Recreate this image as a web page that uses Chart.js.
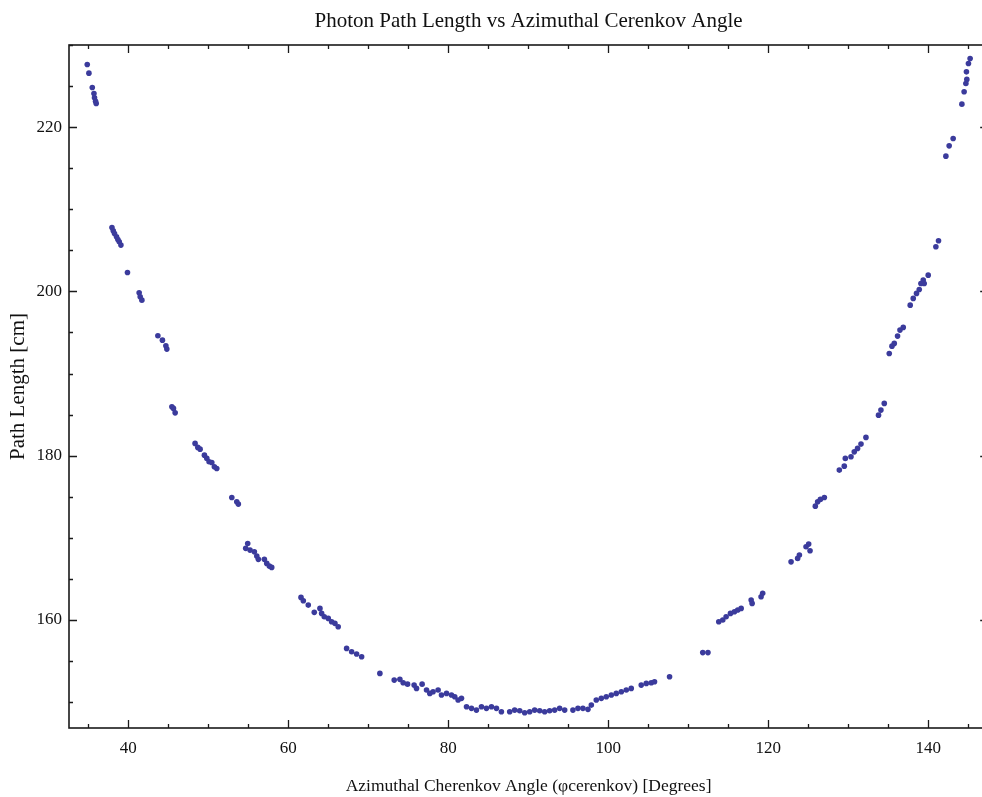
<!DOCTYPE html>
<html>
<head>
<meta charset="utf-8">
<title>Photon Path Length vs Azimuthal Cerenkov Angle</title>
<script src="https://cdn.jsdelivr.net/npm/chart.js@4/dist/chart.umd.min.js"></script>
<style>
  html, body { margin: 0; padding: 0; background: #ffffff; overflow: hidden; }
  #wrap { width: 991px; height: 797px; }
</style>
</head>
<body>
<div id="wrap"><canvas id="chart" width="991" height="797"></canvas></div>
<script>
// Azimuthal Cherenkov angle of each photon [degrees]
const angle = [
  34.88, 35.09, 35.51, 35.72, 35.79, 35.92, 36.00,
  37.97, 38.13, 38.29, 38.54, 38.71, 38.88, 39.09,
  39.91, 41.37, 41.50, 41.71,
  43.71, 44.28, 44.71, 44.83,
  45.46, 45.66, 45.87,
  48.36, 48.70, 48.99, 49.53, 49.83, 50.11, 50.45, 50.77, 51.07,
  52.95, 53.57, 53.77,
  54.94, 54.69, 55.23, 55.77, 56.07, 56.27, 57.02, 57.32, 57.64, 57.94,
  61.60, 61.89, 62.51, 63.26, 63.97, 64.18, 64.51, 65.01, 65.43, 65.84, 66.25,
  67.30, 67.93, 68.55, 69.18,
  71.46, 73.25, 73.96, 74.37, 74.92, 75.74, 76.04, 76.74, 77.29, 77.70,
  78.11, 78.74, 79.16, 79.79, 80.41, 80.82, 81.24, 81.66,
  82.29, 82.91, 83.53, 84.16, 84.78, 85.41, 86.03, 86.65,
  87.69, 88.31, 88.94, 89.56, 90.19, 90.81, 91.44, 92.06, 92.68, 93.31, 93.93, 94.56,
  95.59, 96.22, 96.84, 97.47, 97.89, 98.51, 99.14, 99.76, 100.39, 101.01, 101.64, 102.26, 102.88,
  104.13, 104.76, 105.38, 105.79, 107.67,
  111.82, 112.47,
  113.82, 114.32, 114.74, 115.28, 115.78, 116.19, 116.62,
  117.87, 117.99, 119.11, 119.31,
  122.86, 123.68, 123.90, 124.73, 125.06, 125.23,
  125.89, 126.18, 126.52, 127.02,
  128.89, 129.51, 129.64, 130.35, 130.76, 131.17, 131.60, 132.22,
  133.79, 134.09, 134.51,
  135.13, 135.47, 135.76, 136.17, 136.47, 136.88,
  137.75, 138.13, 138.54, 138.88, 139.09, 139.38, 139.50, 140.00,
  140.96, 141.29,
  142.21, 142.62, 143.12,
  144.21, 144.49, 144.71, 144.83, 144.78, 145.03, 145.24
];

// Photon path length for each angle [cm]
const pathLength = [
  227.63, 226.57, 224.83, 224.10, 223.57, 223.16, 222.88,
  207.79, 207.38, 207.06, 206.65, 206.33, 206.04, 205.64,
  202.31, 199.83, 199.34, 198.94,
  194.60, 194.07, 193.38, 192.98,
  185.95, 185.76, 185.22,
  181.50, 181.01, 180.80, 180.07, 179.67, 179.26, 179.18, 178.65, 178.45,
  174.92, 174.39, 174.11,
  169.32, 168.72, 168.51, 168.30, 167.78, 167.38, 167.38, 166.89, 166.56, 166.40,
  162.75, 162.34, 161.81, 160.93, 161.41, 160.80, 160.39, 160.19, 159.78, 159.59, 159.17,
  156.54, 156.13, 155.85, 155.52,
  153.50, 152.68, 152.77, 152.35, 152.19, 152.07, 151.67, 152.19, 151.47, 151.06,
  151.26, 151.47, 150.86, 151.06, 150.86, 150.65, 150.25, 150.46,
  149.43, 149.24, 149.03, 149.43, 149.24, 149.43, 149.24, 148.82,
  148.82, 149.03, 148.95, 148.70, 148.82, 149.03, 148.95, 148.82, 148.95, 149.03, 149.24, 149.03,
  149.03, 149.24, 149.24, 149.12, 149.64, 150.25, 150.46, 150.65, 150.86, 151.06, 151.26, 151.47, 151.67,
  152.07, 152.28, 152.35, 152.48, 153.09,
  156.03, 156.03,
  159.78, 159.99, 160.39, 160.80, 161.00, 161.21, 161.41,
  162.42, 162.02, 162.82, 163.24,
  167.08, 167.50, 167.90, 168.91, 169.24, 168.42,
  173.86, 174.39, 174.68, 174.92,
  178.25, 178.73, 179.67, 179.87, 180.47, 180.89, 181.41, 182.23,
  184.94, 185.55, 186.37,
  192.45, 193.34, 193.67, 194.56, 195.29, 195.62,
  198.33, 199.15, 199.76, 200.24, 200.97, 201.38, 200.97, 201.98,
  205.43, 206.16,
  216.47, 217.72, 218.62,
  222.80, 224.30, 225.32, 225.81, 226.73, 227.75, 228.36
];

// Labelled tick values on each axis
const xTickLabels = [40, 60, 80, 100, 120, 140];
const yTickLabels = [160, 180, 200, 220];

const points = angle.map((a, i) => ({ x: a, y: pathLength[i] }));

const serif = "'Liberation Serif', 'Times New Roman', 'DejaVu Serif', serif";

// Closed frame with inward-pointing major and minor ticks on all four sides
const frameTicks = {
  id: 'frameTicks',
  afterDraw(chart) {
    const { ctx, chartArea: { left, right, top, bottom }, scales: { x, y } } = chart;
    ctx.save();
    ctx.strokeStyle = '#1a1a1a';
    ctx.lineWidth = 1.6;
    ctx.strokeRect(left, top, right - left, bottom - top);
    ctx.lineWidth = 1.3;
    ctx.beginPath();
    for (let v = Math.ceil(x.min / 5) * 5; v <= x.max; v += 5) {
      const px = Math.round(x.getPixelForValue(v)) + 0.5;
      const len = v % 20 === 0 ? 8 : 4;
      ctx.moveTo(px, bottom); ctx.lineTo(px, bottom - len);
      ctx.moveTo(px, top); ctx.lineTo(px, top + len);
    }
    for (let v = Math.ceil(y.min / 5) * 5; v <= y.max; v += 5) {
      const py = Math.round(y.getPixelForValue(v)) + 0.5;
      const len = v % 20 === 0 ? 8 : 4;
      ctx.moveTo(left, py); ctx.lineTo(left + len, py);
      ctx.moveTo(right, py); ctx.lineTo(right - len, py);
    }
    ctx.stroke();
    ctx.restore();
  }
};

new Chart(document.getElementById('chart'), {
  type: 'scatter',
  data: {
    datasets: [{
      data: points,
      backgroundColor: '#3b3b9c',
      borderWidth: 0,
      pointRadius: 2.8,
      pointHoverRadius: 2.8
    }]
  },
  options: {
    responsive: false,
    animation: false,
    events: [],
    layout: { padding: { left: 0, right: 2, top: 0, bottom: 0 } },
    plugins: {
      legend: { display: false },
      tooltip: { enabled: false },
      title: {
        display: true,
        fullSize: false,
        text: 'Photon Path Length vs Azimuthal Cerenkov Angle',
        color: '#111',
        font: { family: serif, size: 21, weight: 'normal', lineHeight: 1.2 },
        padding: { top: 8.5, bottom: 11.3 }
      }
    },
    scales: {
      x: {
        type: 'linear',
        min: 32.6,
        max: 147.5,
        afterFit(scale) { scale.height = 69; },
        afterBuildTicks(scale) { scale.ticks = xTickLabels.map(v => ({ value: v })); },
        grid: { display: true, drawOnChartArea: false, drawTicks: false },
        border: { display: false },
        ticks: {
          color: '#111',
          padding: 10,
          maxRotation: 0,
          font: { family: serif, size: 17 }
        },
        title: {
          display: true,
          text: 'Azimuthal Cherenkov Angle (φcerenkov) [Degrees]',
          color: '#111',
          font: { family: serif, size: 17.5, lineHeight: 1.2 },
          padding: { top: 0, bottom: 0 }
        }
      },
      y: {
        type: 'linear',
        min: 146.85,
        max: 230.0,
        afterFit(scale) { scale.width = 69; },
        afterBuildTicks(scale) { scale.ticks = yTickLabels.map(v => ({ value: v })); },
        grid: { display: true, drawOnChartArea: false, drawTicks: false },
        border: { display: false },
        ticks: {
          color: '#111',
          padding: 7,
          font: { family: serif, size: 17 }
        },
        title: {
          display: true,
          text: 'Path Length [cm]',
          color: '#111',
          font: { family: serif, size: 21, lineHeight: 1.2 },
          padding: { top: 6, bottom: 0 }
        }
      }
    }
  },
  plugins: [frameTicks]
});
</script>
</body>
</html>
